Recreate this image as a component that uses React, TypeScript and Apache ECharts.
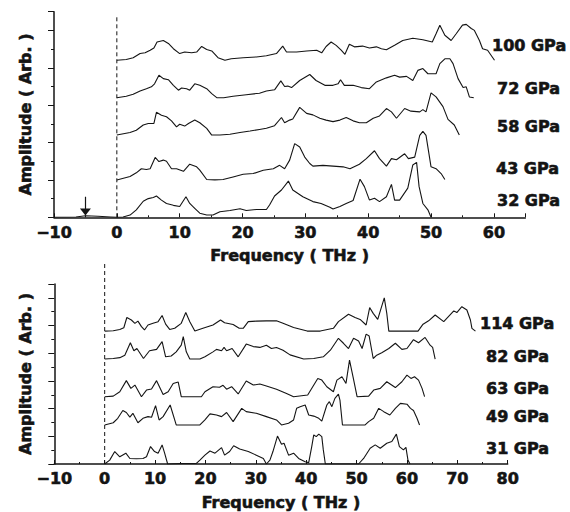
import React, { useEffect, useRef } from "react";
import * as echarts from "echarts";

// ---- Top panel (pressures in GPa) ----
const topLabels = ["32 GPa", "43 GPa", "58 GPa", "72 GPa", "100 GPa"];
const topOffsets = [0, 1.0, 2.2, 3.2, 4.2];

const top32: number[][] = [[-10,0],[-6.5,0.01],[-5,0.04],[-3,0.03],[-1,0.01],[0,0],[1,0.01],[2.1,0.06],[3.1,0.2],[4.2,0.43],[5.0,0.5],[5.8,0.53],[6.3,0.57],[7.1,0.46],[7.9,0.37],[9.0,0.32],[10,0.29],[11,0.55],[11.6,0.37],[12.4,0.24],[13.2,0.11],[14.3,0.06],[15.3,0.06],[16.4,0.15],[18,0.18],[19.6,0.23],[20.6,0.18],[22.2,0.21],[23.8,0.21],[24.3,0.33],[25.1,0.57],[26.2,0.73],[27.3,0.97],[28.0,0.73],[29.6,0.55],[31.2,0.42],[32.5,0.37],[33.9,0.27],[34.4,0.22],[35.5,0.29],[36.5,0.37],[37.6,0.45],[38.7,1.02],[39.4,0.82],[40.2,0.46],[41.0,0.51],[41.8,0.42],[42.9,0.55],[43.7,0.88],[44.2,0.46],[45.0,0.46],[46.3,0.78],[47.1,1.40],[47.7,1.47],[48.1,0.82],[48.7,0.37],[49.5,0.2],[50,0]];
const top43: number[][] = [[0,0],[2.1,0.09],[3.1,0.19],[3.9,0.3],[4.7,0.28],[5.3,0.3],[6.1,0.6],[6.7,0.49],[7.4,0.53],[7.9,0.5],[8.7,0.3],[9.5,0.3],[10.6,0.23],[11.6,0.42],[12.7,0.35],[13.2,0.26],[14.3,0.01],[15.6,0],[16.9,0.01],[18.5,0.08],[20.1,0.15],[21.7,0.17],[23.3,0.26],[24.9,0.3],[25.9,0.39],[26.7,0.3],[27.5,0.53],[28.3,0.97],[29.1,0.88],[29.9,0.61],[30.7,0.44],[31.2,0.37],[32.8,0.39],[34.4,0.37],[36.0,0.35],[37.1,0.30],[38.6,0.42],[39.7,0.57],[41.0,0.78],[41.8,0.57],[42.9,0.37],[43.7,0.57],[44.5,0.54],[45.8,0.70],[46.4,0.57],[47.4,0.61],[48.2,1.19],[48.7,1.30],[49.2,1.19],[50,0.35],[50.8,0.30],[51.6,0.17],[52.2,0.01]];
const top58: number[][] = [[0,0],[2.1,0.07],[3.1,0.13],[4.2,0.27],[5.0,0.31],[5.9,0.31],[6.3,0.61],[7.1,0.53],[7.9,0.49],[8.7,0.38],[9.5,0.22],[10,0.29],[10.8,0.24],[11.4,0.31],[12.4,0.40],[13.2,0.33],[14.3,0.18],[15.1,0],[16.4,0],[18,0.02],[19.6,0.07],[21.2,0.11],[22.7,0.15],[23.8,0.18],[25.1,0.25],[26.2,0.47],[26.7,0.33],[27.5,0.4],[28.0,0.43],[29.1,0.74],[30.2,0.58],[31.2,0.54],[32.3,0.45],[33.3,0.40],[34.4,0.36],[35.5,0.40],[36.5,0.47],[37.6,0.38],[38.6,0.33],[39.7,0.33],[40.8,0.45],[41.8,0.51],[42.9,0.71],[43.7,0.62],[44.5,0.45],[45.8,0.71],[46.8,0.64],[48.2,0.62],[48.7,0.68],[49.2,0.62],[50,1.13],[50.8,1.02],[51.9,0.76],[52.7,0.42],[53.7,0.27],[54.5,0]];
const top72: number[][] = [[0,0],[1.5,0.04],[2.6,0.09],[3.7,0.18],[4.7,0.24],[5.5,0.29],[6.0,0.37],[6.7,0.6],[7.4,0.51],[8.2,0.48],[9.0,0.33],[9.8,0.2],[10.3,0.26],[11.1,0.24],[11.6,0.2],[12.4,0.37],[13.2,0.33],[14.3,0.24],[15.1,0.11],[15.9,0],[17.0,0],[18.5,0.04],[20.6,0.08],[22.7,0.12],[23.8,0.18],[25.1,0.21],[26.1,0.45],[26.7,0.30],[27.2,0.31],[27.8,0.27],[29.1,0.46],[30.7,0.62],[31.7,0.46],[33.1,0.33],[34.4,0.33],[35.2,0.37],[35.6,0.48],[36.2,0.33],[37.6,0.33],[38.9,0.27],[40.2,0.24],[41.3,0.42],[42.9,0.53],[44.2,0.6],[45.0,0.55],[46.1,0.57],[47.1,0.46],[47.9,0.73],[48.7,0.78],[49.5,0.64],[50.8,0.64],[51.4,0.91],[52.2,1.04],[53.0,1.04],[53.5,0.91],[54.3,0.51],[55.1,0.27],[55.6,0.29],[56.1,0.02],[56.8,0]];
const top100: number[][] = [[0,0],[1.5,0.02],[2.6,0.07],[3.7,0.18],[4.5,0.2],[5.3,0.27],[5.9,0.33],[6.4,0.49],[7.4,0.53],[8.2,0.45],[9.0,0.31],[10,0.18],[10.8,0.22],[11.9,0.2],[12.7,0.22],[13.5,0.37],[14.3,0.29],[15.1,0.25],[16.1,0.07],[17.2,0],[18.2,0.04],[20.1,0.07],[22.2,0.09],[23.8,0.12],[25.4,0.18],[26.4,0.38],[27,0.22],[28.6,0.22],[30.2,0.25],[31.8,0.27],[32.6,0.2],[33.3,0.37],[34.1,0.49],[34.9,0.40],[35.7,0.27],[36.3,0.16],[37.0,0.43],[37.8,0.36],[39.1,0.38],[40.2,0.33],[41.3,0.36],[42.1,0.31],[42.9,0.28],[44.2,0.40],[45.5,0.53],[47.1,0.59],[48.7,0.55],[50.2,0.49],[50.8,0.71],[51.4,0.94],[52.2,0.67],[53.2,0.53],[54.0,0.71],[55.0,0.94],[55.6,0.96],[56.4,0.85],[56.9,0.80],[57.7,0.53],[58.2,0.31],[59.0,0.27],[60.1,0]];

// ---- Bottom panel ----
const botLabels = ["31 GPa", "49 GPa", "63 GPa", "82 GPa", "114 GPa"];
const botOffsets = [0, 1.41, 2.43, 3.79, 4.8];

const bot31: number[][] = [[0,0],[1.0,0.14],[2.0,0.45],[3.0,0.26],[4.2,0.39],[5.0,0.2],[6.3,0.19],[7.6,0.2],[8.3,0.26],[9.1,0.63],[9.9,0.45],[10.6,0.39],[11.4,0.69],[11.9,0.39],[12.5,0],[15,0.02],[18.2,0.02],[18.9,0.14],[19.9,0.32],[20.9,0.47],[21.9,0.39],[23.2,0.59],[23.8,0.32],[24.8,0.45],[25.6,0.66],[26.8,0.54],[28.5,0.45],[30.1,0.32],[31.5,0.2],[32.1,0],[32.8,0.14],[33.4,0.45],[34.3,1.01],[35.1,0.71],[35.6,0.75],[36.5,0.32],[37.5,0.39],[38.5,0.2],[39.8,0.08],[40.5,0.05],[41.1,0.63],[41.5,1.05],[42.0,0.99],[42.5,1.08],[43.1,0.99],[43.4,0.51],[43.8,0],[50.4,0],[51.4,0.2],[52.7,0.57],[53.7,0.69],[54.7,0.57],[56.0,0.75],[57.0,0.81],[57.9,1.08],[58.5,0.63],[59.3,0.51],[59.8,0.6],[60.2,0.14],[60.6,0]];
const bot49: number[][] = [[0,0],[1.7,0.08],[2.6,0.24],[3.6,0.52],[4.3,0.45],[5.0,0.28],[5.6,0.42],[6.6,0.08],[7.6,0.24],[8.6,0.30],[9.3,0.28],[10.1,0.70],[10.8,0.18],[11.6,0.30],[13.0,0.72],[14.2,0],[18.9,0],[19.9,0.18],[20.9,0.40],[22.2,0.36],[23.2,0.30],[24.2,0.45],[25.5,0.12],[27.2,0.6],[28.1,0.48],[30.1,0.42],[32.1,0.30],[34.1,0.18],[35.1,0],[36.5,0.06],[37.5,0.18],[38.1,0.6],[38.8,0.66],[39.8,0.72],[40.5,0.36],[41.5,0.32],[42.5,0.24],[43.1,0.14],[44.1,0.72],[44.6,0.84],[45.1,0.66],[45.7,0.96],[46.4,1.11],[46.7,0.9],[47.2,0],[51.7,0],[52.4,0.12],[53.4,0.24],[54.4,0.6],[55.4,0.48],[56.6,0.36],[57.7,0.6],[58.7,0.78],[60.0,0.75],[60.7,0.6],[61.3,0.52],[62.0,0.24],[62.5,0]];
const bot63: number[][] = [[0,0],[1.7,0.02],[3.0,0.18],[4.3,0.58],[5.2,0.3],[6.0,0.42],[7.3,0],[8.3,0.24],[9.3,0.28],[10.3,0.58],[11.6,0.08],[12.6,0.18],[13.6,0.48],[14.6,0.53],[15.2,0],[19.2,0],[19.9,0.18],[21.5,0.36],[22.8,0.34],[23.5,0.41],[24.2,0.27],[25.2,0.36],[26.5,0.1],[28.1,0.57],[29.5,0.42],[30.8,0.46],[32.1,0.39],[34.1,0.27],[36.1,0.12],[37.5,0],[40.3,0.06],[42.3,0.66],[43.1,0.6],[44.1,0.36],[45.4,0.18],[46.1,0.6],[47.1,0.72],[47.9,0.48],[48.6,1.32],[49.3,0.72],[50.1,0],[52.4,0.02],[53.4,0.24],[54.7,0.3],[56.0,0.54],[57.7,0.33],[59.0,0.54],[60.0,0.78],[60.8,0.66],[61.5,0.72],[62.3,0.6],[63.0,0.3],[63.5,0]];
const bot82: number[][] = [[0,0],[1.7,0.02],[3.0,0.05],[4.0,0.14],[5.1,0.59],[5.8,0.3],[6.4,0.38],[7.7,0.02],[8.9,0.3],[10.3,0.35],[11.4,0.63],[12.1,0.08],[13.2,0.11],[14.2,0.26],[15.2,0.5],[15.6,0.81],[16.2,0.26],[16.9,0],[18.9,0],[19.9,0.08],[21.5,0.26],[22.2,0.35],[23.2,0.3],[23.7,0.42],[24.2,0.3],[25.3,0.38],[26.5,0.08],[28.1,0.54],[29.5,0.45],[30.8,0.42],[32.1,0.5],[33.1,0.38],[34.1,0.42],[35.4,0.32],[36.8,0.15],[39.5,0],[41.5,0.02],[43.4,0.08],[44.8,0.32],[46.4,0.75],[47.4,0.57],[48.4,0.38],[49.4,0.75],[50.4,0.65],[51.1,0.38],[51.9,0.90],[52.5,0.83],[53.3,0.02],[54.0,0.14],[55.0,0.23],[56.4,0.38],[57.7,0.57],[59.0,0.35],[60.0,0.38],[61.3,0.7],[62.3,0.59],[63.6,0.78],[64.6,0.5],[65.1,0.42],[65.6,0]];
const bot114: number[][] = [[0,0],[1.7,0.01],[3.0,0.06],[3.8,0.12],[4.4,0.49],[5.3,0.4],[6.0,0.28],[6.6,0.36],[7.3,0.16],[7.9,0.04],[8.6,0.22],[9.6,0.28],[10.6,0.34],[11.4,0.56],[12.1,0.25],[12.9,0.06],[13.9,0.1],[15.2,0.28],[16.1,0.67],[16.9,0.34],[17.9,0],[19.5,0.1],[21.5,0.22],[23.0,0.4],[23.8,0.3],[25.5,0.24],[26.7,0.1],[27.5,0.1],[28.5,0.34],[30.1,0.36],[32.1,0.37],[34.1,0.37],[35.4,0.28],[37.5,0.13],[40.2,0],[42.8,0],[45.4,0.1],[46.4,0.34],[48.4,0.61],[49.7,0.49],[50.7,0.42],[51.9,0.22],[52.6,0.85],[53.3,0.64],[54.2,0.42],[55.5,1.2],[56.0,0.64],[56.4,0],[62.2,0],[63.2,0.25],[64.3,0.37],[65.6,0.58],[67.3,0.34],[69.3,0.73],[69.9,0.67],[70.9,0.88],[71.9,0.76],[72.6,0.4],[72.9,0.1],[73.6,0]];

const topCurves = [top32, top43, top58, top72, top100];
const botCurves = [bot31, bot49, bot63, bot82, bot114];

// Axis ranges
const topX = { min: -10, max: 65, interval: 10 };
const topY = { min: 0, max: 5.5, interval: 1 };
const botX = { min: -10, max: 80, interval: 10 };
const botY = { min: 0, max: 6.5, interval: 1 };
const topDashTop = 5.36;
const botDashTop = 7.3;
const arrowFreq = -5;
const arrowFrom = 0.55;
const arrowTo = 0.14;

const FONT = '"DejaVu Sans", "Liberation Sans", sans-serif';
const INK = "#141414";
const HEAVY = { textBorderColor: INK, textBorderWidth: 0.6 };

function fmt(v: number) {
  if (v % 10 !== 0) return "";
  return v < 0 ? "\u2212" + Math.abs(v) : String(v);
}

function xAxisCfg(gridIndex: number, r: { min: number; max: number; interval: number }, margin: number, nameGap: number) {
  return {
    type: "value",
    gridIndex,
    min: r.min,
    max: r.max,
    interval: r.interval,
    axisLine: { show: true, onZero: false, lineStyle: { color: INK, width: 1.5 } },
    axisTick: { show: true, inside: true, length: 4, lineStyle: { color: INK, width: 1 } },
    minorTick: { show: true, splitNumber: 2, length: 2, lineStyle: { color: INK, width: 1 } },
    splitLine: { show: false },
    minorSplitLine: { show: false },
    axisLabel: { show: true, margin, formatter: fmt, color: INK, fontFamily: FONT, fontWeight: "bold", fontSize: 16, ...HEAVY },
    name: "Frequency ( THz )",
    nameLocation: "middle",
    nameGap,
    nameTextStyle: { color: INK, fontFamily: FONT, fontWeight: "bold", fontSize: 16, ...HEAVY },
  };
}

function yAxisCfg(gridIndex: number, r: { min: number; max: number; interval: number }) {
  return {
    type: "value",
    gridIndex,
    min: r.min,
    max: r.max,
    interval: r.interval,
    axisLine: { show: true, onZero: false, lineStyle: { color: INK, width: 1.5 } },
    axisTick: { show: true, inside: false, length: 6, lineStyle: { color: INK, width: 1 } },
    minorTick: { show: true, splitNumber: 2, length: 3, lineStyle: { color: INK, width: 1 } },
    splitLine: { show: false },
    minorSplitLine: { show: false },
    axisLabel: { show: false },
    name: "Amplitude ( Arb. )",
    nameLocation: "middle",
    nameGap: 21,
    nameRotate: 90,
    nameTextStyle: { color: INK, fontFamily: FONT, fontWeight: "bold", fontSize: 16, ...HEAVY },
  };
}

export default function App() {
  const ref = useRef<HTMLDivElement>(null);
  useEffect(() => {
    if (!ref.current) return;
    const chart = echarts.init(ref.current, null, { renderer: "svg" });
    const series: any[] = [];
    const curveStyle = { color: INK, width: 1.1 };
    topCurves.forEach((c, i) => {
      series.push({
        type: "line",
        name: topLabels[i],
        xAxisIndex: 0,
        yAxisIndex: 0,
        showSymbol: false,
        symbol: "none",
        lineStyle: curveStyle,
        data: c.map(([f, a]) => [f, a + topOffsets[i]]),
      });
    });
    botCurves.forEach((c, i) => {
      series.push({
        type: "line",
        name: botLabels[i],
        xAxisIndex: 1,
        yAxisIndex: 1,
        showSymbol: false,
        symbol: "none",
        lineStyle: curveStyle,
        data: c.map(([f, a]) => [f, a + botOffsets[i]]),
      });
    });
    // dashed zero lines
    series.push({
      type: "line",
      xAxisIndex: 0,
      yAxisIndex: 0,
      clip: false,
      symbol: "none",
      lineStyle: { color: INK, width: 1, type: [4, 3] },
      data: [[0, 0], [0, topDashTop]],
      markLine: {
        silent: true,
        animation: false,
        symbol: ["none", "triangle"],
        symbolSize: [11, 7],
        label: { show: false },
        lineStyle: { color: INK, width: 1.2, type: "solid" },
        itemStyle: { color: INK },
        data: [[{ coord: [arrowFreq, arrowFrom] }, { coord: [arrowFreq, arrowTo] }]],
      },
    });
    series.push({
      type: "line",
      xAxisIndex: 1,
      yAxisIndex: 1,
      clip: false,
      symbol: "none",
      lineStyle: { color: INK, width: 1, type: [4, 3] },
      data: [[0, 0], [0, botDashTop]],
    });

    const labelFont = `bold 16px ${FONT}`;
    const topLabelPos = [[497, 200], [496, 168], [497, 126], [497, 88], [492, 45]];
    const botLabelPos = [[486, 448], [486, 416], [486, 388], [486, 356], [480, 323]];
    const graphics: any[] = [];
    const mk = (t: string, p: number[]) => ({
      type: "text",
      x: p[0],
      y: p[1],
      style: { text: t, fill: INK, stroke: INK, lineWidth: 0.6, font: labelFont, verticalAlign: "middle", align: "left" },
    });
    topLabels.forEach((t, i) => graphics.push(mk(t, topLabelPos[i])));
    botLabels.forEach((t, i) => graphics.push(mk(t, botLabelPos[i])));

    chart.setOption({
      animation: false,
      backgroundColor: "#ffffff",
      grid: [
        { left: 54, top: 11.7, width: 471.3, height: 205.6, containLabel: false },
        { left: 54.3, top: 284, width: 453.4, height: 180, containLabel: false },
      ],
      xAxis: [xAxisCfg(0, topX, 7, 30), xAxisCfg(1, botX, 6, 30)],
      yAxis: [yAxisCfg(0, topY), yAxisCfg(1, botY)],
      series,
      graphic: graphics,
    });
    return () => chart.dispose();
  }, []);
  return <div ref={ref} style={{ position: "absolute", left: 0, top: 0, width: 570, height: 512 }} />;
}
